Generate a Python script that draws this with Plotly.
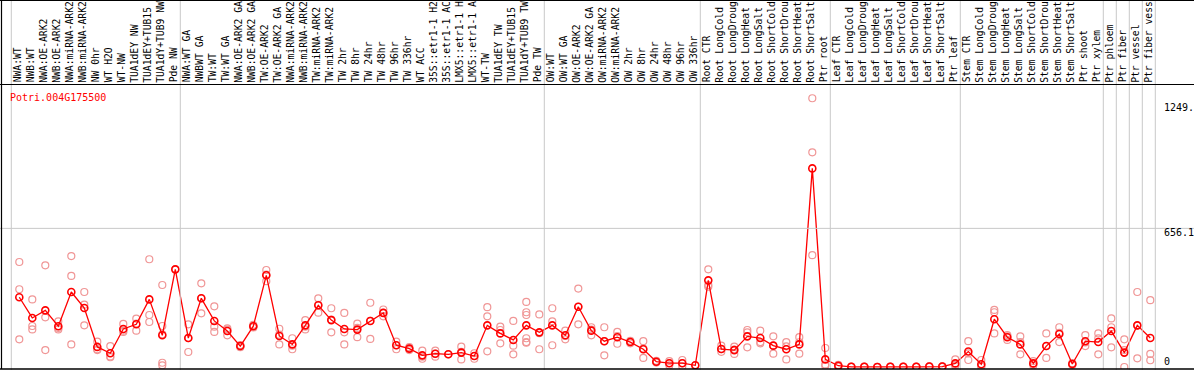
import plotly.graph_objects as go

categories = ["NWA:WT","NWB:WT","NWA:OE-ARK2","NWB:OE-ARK2","NWA:miRNA-ARK2","NWB:miRNA-ARK2","NW 0hr","WT H2O","WT-NW","TUA1dEY NW","TUA1dEY+TUB15","TUA1dY+TUB9 NW","Pde NW",
              "NWA:WT GA","NWBWT GA","TW:WT","TW:WT GA","NWA:OE-ARK2 GA","NWB:OE-ARK2 GA","TW:OE-ARK2","TW:OE-ARK2 GA","NWA:miRNA-ARK2","NWB:miRNA-ARK2","TW:miRNA-ARK2","TW:miRNA-ARK2",
              "TW 2hr","TW 8hr","TW 24hr","TW 48hr","TW 96hr","TW 336hr","WT ACC","35S::etr1-1 H2","35S::etr1-1 AC","LMX5::etr1-1 H","LMX5::etr1-1 A",
              "WT-TW","TUA1dEY TW","TUA1dEY+TUB15","TUA1dY+TUB9 TW","Pde TW",
              "OW:WT","OW:WT GA","OW:OE-ARK2","OW:OE-ARK2 GA","OW:miRNA-ARK2","OW:miRNA-ARK2","OW 2hr","OW 8hr","OW 24hr","OW 48hr","OW 96hr","OW 336hr",
              "Root CTR","Root LongCold","Root LongDroug","Root LongHeat","Root LongSalt","Root ShortCold","Root ShortDrou","Root ShortHeat","Root ShortSalt","Ptr root",
              "Leaf CTR","Leaf LongCold","Leaf LongDroug","Leaf LongHeat","Leaf LongSalt","Leaf ShortCold","Leaf ShortDrou","Leaf ShortHeat","Leaf ShortSalt","Ptr leaf",
              "Stem CTR","Stem LongCold","Stem LongDroug","Stem LongHeat","Stem LongSalt","Stem ShortCold","Stem ShortDrou","Stem ShortHeat","Stem ShortSalt","Ptr shoot",
              "Ptr xylem","Ptr phloem","Ptr fiber","Ptr vessel","Ptr fiber vess"]

means = [330, 232, 268, 193, 355, 279, 95, 65, 180, 202, 320, 150, 462,
         137, 325, 218, 170, 99, 193, 434, 147, 107, 197, 292, 222,
         180, 177, 218, 256, 103, 87, 55, 63, 60, 68, 52,
         197, 159, 128, 197, 164,
         197, 150, 285, 172, 122, 141, 118, 84, 25, 18, 18, 8,
         410, 85, 80, 145, 137, 101, 84, 107, 940, 36,
         6, 1, 1, 0, 1, 1, 1, 2, 2, 17,
         73, 13, 226, 141, 107, 17, 99, 156, 14, 122,
         118, 170, 68, 197, 137]

replicates = [[497, 368, 131], [320, 194, 178], [481, 235, 80], [216, 185, 178], [525, 431, 107],
              [355, 295, 197], [120, 84, 80], [99, 50, 46], [204, 166, 172], [229, 172, 205],
              [510, 246, 213], [388, 194, 155, 20, 8], [462],
              [202, 137, 71], [396, 325, 254], [287, 191, 166], [183, 177, 150], [104, 99, 94],
              [199, 193, 187], [459, 437, 406], [181, 153, 107], [136, 101, 84], [222, 191, 178],
              [325, 294, 257], [278, 224, 164],
              [256, 164, 107], [205, 185, 141], [304, 218, 133], [272, 256, 240], [120, 103, 84],
              [94, 87, 80], [77, 49, 39], [77, 63, 49], [60], [96, 72, 36], [65, 52, 39],
              [283, 240, 74], [191, 175, 112], [218, 101, 60], [308, 259, 246, 136, 115, 118], [249, 160, 84],
              [278, 216, 103], [172, 147, 131], [371, 285, 202], [188, 177, 150], [188, 122, 55],
              [166, 146, 110], [124, 118, 112], [122, 87, 43], [29, 25, 21], [28, 18, 8], [33, 18, 3], [8],
              [462, 388, 380], [101, 85, 72], [96, 82, 62], [175, 164, 93], [172, 118, 112],
              [145, 101, 63], [118, 98, 36], [141, 117, 63], [1272, 1016, 529], [90, 12, 6],
              [10, 6, 2], [2, 1, 0], [2, 1, 0], [1, 0, 0], [2, 1, 0], [2, 1, 0], [2, 1, 0], [3, 2, 1], [3, 2, 1], [36, 10, 5],
              [122, 64, 33], [33, 5, 2], [270, 259, 159], [151, 145, 128], [145, 118, 60],
              [28, 15, 8], [159, 99, 43], [188, 162, 118], [18, 14, 10], [151, 116, 99],
              [159, 135, 60], [230, 188, 93], [131, 80, 0], [355, 196, 41], [316, 62, 32]]

group_starts = [0, 13, 41, 53, 63, 73, 84, 85, 86, 87, 88]
gene_name = "Potri.004G175500"
ytick_vals = [1249.0, 656.1, 0]
ytick_text = ["1249.", "656.1", "0"]
ytick_shift = [-4, -4, 5]

W, H = 1194, 370
T, B = 85, 1
PX = 13.0  # pixels per category
x_first = 19.3
xr = [-x_first / PX, (W - x_first) / PX]
yr = [-9.5, 1334.6]
ph = H - T - B

idx = list(range(len(categories)))
rx, ry = [], []
for i, reps in enumerate(replicates):
    for v in reps:
        rx.append(i)
        ry.append(v)

fig = go.Figure()
fig.add_trace(go.Scatter(x=rx, y=ry, mode="markers",
                         marker=dict(symbol="circle-open", size=7, color="rgb(240,150,150)",
                                     line=dict(width=1.2)),
                         hoverinfo="skip", showlegend=False))
fig.add_trace(go.Scatter(x=idx, y=means, mode="lines+markers",
                         line=dict(color="#ff0000", width=1.3),
                         marker=dict(symbol="circle-open", size=7, color="#ff0000",
                                     line=dict(width=1.6)),
                         text=categories, showlegend=False))

shapes = []
# horizontal grid line
shapes.append(dict(type="line", xref="paper", yref="y", x0=0, x1=1, y0=656.1, y1=656.1,
                   line=dict(color="rgb(200,200,200)", width=1)))
# vertical group separators
for g in group_starts:
    shapes.append(dict(type="line", xref="x", yref="paper", x0=g - 8 / PX, x1=g - 8 / PX,
                       y0=-B / ph, y1=1 + T / ph, line=dict(color="rgb(200,200,200)", width=1)))
# frame lines
shapes.append(dict(type="line", xref="paper", yref="paper", x0=0, x1=1, y0=1 + 0.5 / ph, y1=1 + 0.5 / ph,
                   line=dict(color="black", width=1.2)))
shapes.append(dict(type="line", xref="paper", yref="paper", x0=0, x1=1, y0=0, y1=0,
                   line=dict(color="black", width=1.5)))
shapes.append(dict(type="line", xref="paper", yref="paper", x0=1.5 / W, x1=1.5 / W, y0=0, y1=1 + T / ph,
                   line=dict(color="black", width=1.2)))
shapes.append(dict(type="line", xref="paper", yref="paper", x0=0, x1=1, y0=1 + (T - 0.5) / ph, y1=1 + (T - 0.5) / ph,
                   line=dict(color="black", width=1)))

annotations = []
for i, c in enumerate(categories):
    annotations.append(dict(xref="x", yref="paper", x=i - 2 / PX, y=1 + 1.5 / ph,
                            xanchor="center", yanchor="bottom", textangle=-90, text=c,
                            showarrow=False, borderpad=0,
                            font=dict(family="DejaVu Sans Mono", size=9.7, color="black")))
annotations.append(dict(xref="paper", yref="paper", x=8 / W, y=(H - B - 97) / ph,
                        xanchor="left", yanchor="middle", text=gene_name, showarrow=False,
                        font=dict(family="DejaVu Sans Mono", size=10, color="#ff0000")))
for v, t, s in zip(ytick_vals, ytick_text, ytick_shift):
    annotations.append(dict(xref="paper", yref="y", x=1162 / W, y=v, yshift=s,
                            xanchor="left", yanchor="middle", text=t, showarrow=False,
                            font=dict(family="DejaVu Sans Mono", size=10, color="black")))

fig.update_layout(width=W, height=H, margin=dict(l=0, r=0, t=T, b=B, pad=0),
                  paper_bgcolor="white", plot_bgcolor="white",
                  xaxis=dict(range=xr, showgrid=False, zeroline=False, showticklabels=False, ticks=""),
                  yaxis=dict(range=yr, showgrid=False, zeroline=False, showticklabels=False, ticks=""),
                  shapes=shapes, annotations=annotations, showlegend=False)

fig.write_html("out.html", config={"displayModeBar": False},
               post_script="document.body.style.margin='0';document.body.style.overflow='hidden';")
